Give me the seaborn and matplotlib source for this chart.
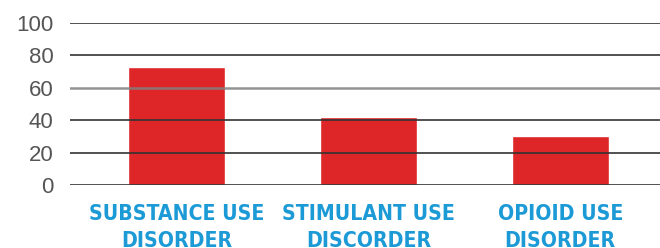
import matplotlib
matplotlib.use("Agg")
import matplotlib.pyplot as plt
import seaborn as sns
import pandas as pd

# datos del grafico
categorias = ["SUBSTANCE USE\nDISORDER", "STIMULANT USE\nDISCORDER", "OPIOID USE\nDISORDER"]
valores = [73, 42, 30]
ticks_y = [0, 20, 40, 60, 80, 100]

rojo = "#DE2628"
azul = "#1C9AD6"

df = pd.DataFrame({"categoria": categorias, "valor": valores})

sns.set_style("white")
plt.rcParams["font.family"] = ["Liberation Sans", "DejaVu Sans"]

fig = plt.figure(figsize=(6.6, 2.48), dpi=100)
ax = fig.add_axes([0.106, 0.254, 0.894, 0.6545])

sns.barplot(data=df, x="categoria", y="valor", color=rojo, width=0.505,
            saturation=1, ax=ax, zorder=1)

ax.set_ylim(0, 100)
ax.set_xlim(-0.555, 2.52)
ax.set_yticks(ticks_y)
ax.set_yticklabels([str(t) for t in ticks_y], fontsize=16, color="#555555")
ax.tick_params(axis="y", length=0, pad=12)
ax.tick_params(axis="x", length=0, pad=14)

# lineas de la cuadricula por encima de las barras
ax.set_axisbelow(False)
ax.yaxis.grid(True, color="#333333", linewidth=1.2)
for t, linea in zip(ticks_y, ax.get_ygridlines()):
    if t == 60:
        linea.set_color("#808080")
        linea.set_alpha(0.85)
        linea.set_linewidth(1.8)
    linea.set_zorder(3)

for s in ax.spines.values():
    s.set_visible(False)

ax.set_xlabel("")
ax.set_ylabel("")
for etiqueta in ax.get_xticklabels():
    etiqueta.set_family(["DejaVu Sans"])
    etiqueta.set_stretch("condensed")
    etiqueta.set_fontweight("bold")
    etiqueta.set_fontsize(15.2)
    etiqueta.set_color(azul)
    etiqueta.set_linespacing(1.4)
    etiqueta.set_verticalalignment("top")

fig.savefig("out.png", dpi=100)
